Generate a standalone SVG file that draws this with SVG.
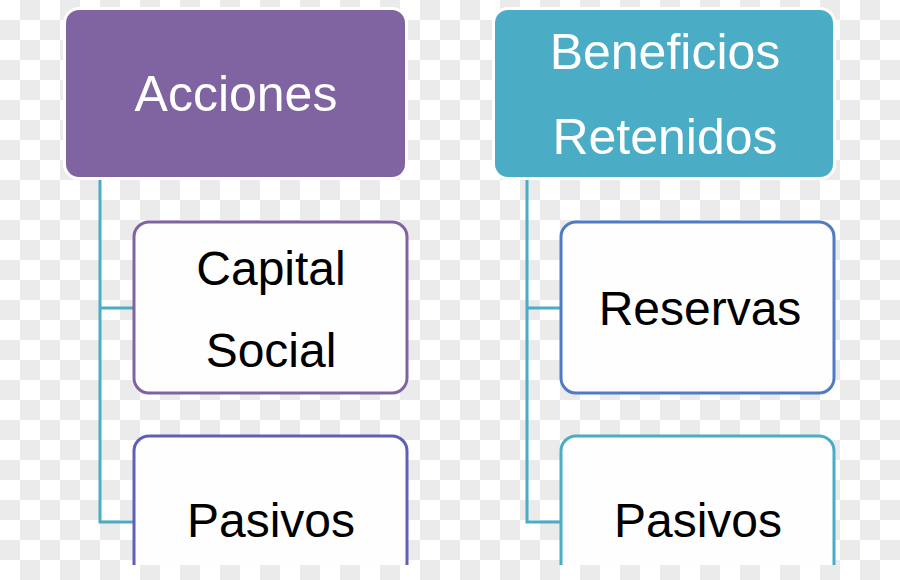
<svg xmlns="http://www.w3.org/2000/svg" width="900" height="580" viewBox="0 0 900 580">
  <defs>
    <pattern id="checker" width="40" height="40" patternUnits="userSpaceOnUse">
      <rect width="40" height="40" fill="#ffffff"/>
      <rect x="20" y="0" width="20" height="20" fill="#ebebeb"/>
      <rect x="0" y="20" width="20" height="20" fill="#ebebeb"/>
    </pattern>
  </defs>
  <style>
    .head { stroke: #ffffff; stroke-width: 6; paint-order: stroke; }
    .child { fill: #fefefe; stroke-width: 3; }
    .conn { fill: none; stroke: #4bacc6; stroke-width: 3; }
    .t { font-family: "Liberation Sans", Arial, sans-serif; font-size: 48px; text-anchor: middle; }
    .th { font-size: 50px; }
    .tw { fill: #ffffff; }
    .tb { fill: #000000; }
  </style>
  <rect width="900" height="580" fill="url(#checker)"/>

  <g id="connectors">
    <path class="conn" d="M100 178 V522 H134"/>
    <path class="conn" d="M100 308 H134"/>
    <path class="conn" d="M527 178 V522 H561"/>
    <path class="conn" d="M527 308 H561"/>
  </g>

  <g id="acciones">
    <rect class="head" x="66" y="10" width="339" height="167" rx="13" fill="#8064a2"/>
    <text class="t th tw" x="236" y="111">Acciones</text>
  </g>

  <g id="beneficios-retenidos">
    <rect class="head" x="495" y="10" width="338" height="167" rx="13" fill="#4bacc6"/>
    <text class="t th tw" x="665" y="69">Beneficios</text>
    <text class="t th tw" x="665" y="154">Retenidos</text>
  </g>

  <g id="capital-social">
    <rect class="child" x="134" y="222" width="273" height="171" rx="15" stroke="#8064a2"/>
    <text class="t tb" x="271" y="285">Capital</text>
    <text class="t tb" x="271" y="367">Social</text>
  </g>

  <g id="pasivos-1">
    <path class="child" d="M134 565 V451 A15 15 0 0 1 149 436 H392 A15 15 0 0 1 407 451 V565" stroke="#5f5fb6"/>
    <text class="t tb" x="271" y="537">Pasivos</text>
  </g>

  <g id="reservas">
    <rect class="child" x="561" y="222" width="273" height="171" rx="15" stroke="#4f7bc4"/>
    <text class="t tb" x="700" y="325">Reservas</text>
  </g>

  <g id="pasivos-2">
    <path class="child" d="M561 565 V451 A15 15 0 0 1 576 436 H819 A15 15 0 0 1 834 451 V565" stroke="#4bacc6"/>
    <text class="t tb" x="698" y="537">Pasivos</text>
  </g>
</svg>
